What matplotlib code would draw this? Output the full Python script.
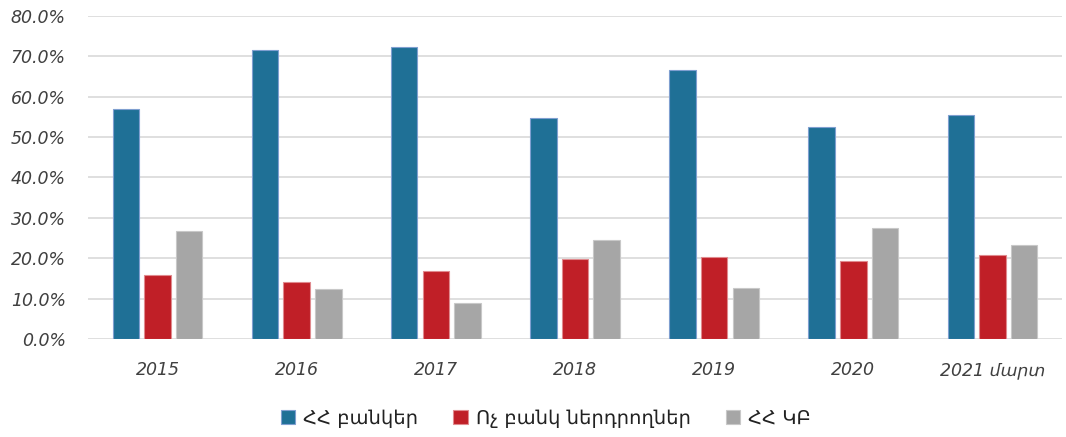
import matplotlib
matplotlib.use("Agg")
import matplotlib.pyplot as plt
import numpy as np
from matplotlib.ticker import FuncFormatter

years = ["2015", "2016", "2017", "2018", "2019", "2020", "2021 մարտ"]
series_names = ["ՀՀ բանկեր", "Ոչ բանկ ներդրողներ", "ՀՀ ԿԲ"]
banks = [57.0, 71.7, 72.4, 54.8, 66.6, 52.5, 55.6]
non_banks = [15.8, 14.1, 16.8, 19.9, 20.2, 19.3, 20.7]
cba = [26.7, 12.4, 8.9, 24.6, 12.7, 27.6, 23.2]

colors = ["#1f7096", "#c01f27", "#a6a6a6"]
edges = ["#7f9fd0", "#e08a8e", "#c8c8c8"]

plt.rcParams["font.family"] = ["DejaVu Sans"]

fig = plt.figure(figsize=(10.66, 4.37), dpi=100)
ax = fig.add_axes([88 / 1066, 1 - 339 / 437, 974 / 1066, 323 / 437])

x = np.arange(len(years))
w = 0.19
step = 0.227
for i, vals in enumerate([banks, non_banks, cba]):
    ax.bar(x + (i - 1) * step, vals, width=w, color=colors[i],
           edgecolor=edges[i], linewidth=0.8, label=series_names[i], zorder=3)

ax.set_xlim(-0.5, len(years) - 0.5)
ax.set_ylim(0, 80)
ax.set_yticks(np.arange(0, 81, 10))
ax.yaxis.set_major_formatter(FuncFormatter(lambda v, p: f"{v:.1f}%"))
ax.set_xticks(x)
ax.set_xticklabels(years)

ax.grid(axis="y", color="#d9d9d9", linewidth=1.2, zorder=0)
for s in ax.spines.values():
    s.set_visible(False)
ax.tick_params(length=0, labelsize=12.5, labelcolor="#404040")
ax.tick_params(axis="y", pad=16)
ax.tick_params(axis="x", pad=16)
for lab in ax.get_xticklabels() + ax.get_yticklabels():
    lab.set_fontstyle("italic")

ax.legend(loc="center", bbox_to_anchor=(0.47, -0.245), ncol=3, frameon=False,
          fontsize=14, handlelength=0.75, handleheight=0.75, handletextpad=0.4,
          columnspacing=1.8, labelcolor="#222222")

fig.savefig("out.png", dpi=100)
